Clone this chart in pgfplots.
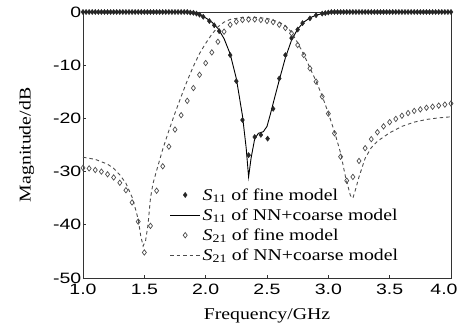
\documentclass[border=0pt]{standalone}
\usepackage{fontspec}
\setmainfont{Liberation Serif}[FakeStretch=1.2]
\newfontfamily\tickfont{Liberation Sans}[FakeStretch=1.3]
\usepackage{pgfplots}
\pgfplotsset{compat=1.18}
\begin{document}
\begin{tikzpicture}
\begin{axis}[name=ax, scale only axis, width=368pt, height=266pt,
  xmin=1, xmax=4, ymin=-50, ymax=0,
  xtick={1,1.5,2,2.5,3,3.5,4}, ytick={-50,-40,-30,-20,-10,0},
  xticklabels={1.0,1.5,2.0,2.5,3.0,3.5,\hspace*{-14pt}4.0},
  /pgf/number format/assume math mode=true,
  x tick label style={font=\fontsize{15}{15}\selectfont\tickfont, inner sep=2pt, yshift=-4pt},
  y tick label style={font=\fontsize{15}{15}\selectfont\tickfont, inner sep=1.5pt},
  tick align=inside, xtick pos=bottom, ytick pos=left, major tick length=3pt,
  tick style={black!80, line width=0.8pt},
  axis line style={black!80, line width=0.9pt},
  xlabel={Frequency/GHz}, ylabel={Magnitude/dB},
  label style={font=\fontsize{16.5}{19}\selectfont},
  xlabel style={yshift=-8pt},
  ylabel style={yshift=14pt},
  legend cell align=left,
  legend style={draw=none, fill=none, at={(0.235,0.345)}, anchor=north west, font=\fontsize{16.5}{18}\selectfont, row sep=3pt, inner sep=0pt},
  legend image code/.code={\draw[mark repeat=2,mark phase=2,#1] plot coordinates {(0cm,0cm) (0.53cm,0cm) (1.06cm,0cm)};},
]
\addplot[only marks, mark=diamond*, mark size=2.6pt, black!85] coordinates {
(1.000,0)(1.025,0)(1.050,0)(1.075,0)(1.100,0)(1.125,0)(1.150,0)(1.175,0)(1.200,0)(1.225,0)
(1.250,0)(1.275,0)(1.300,0)(1.325,0)(1.350,0)(1.375,0)(1.400,0)(1.425,0)(1.450,0)(1.475,0)
(1.500,0)(1.525,0)(1.550,0)(1.575,0)(1.600,0)(1.625,0)(1.650,0)(1.675,0)(1.700,0)(1.725,0)
(1.750,0)(1.775,0)(1.800,0)(1.825,0)(1.850,0)(1.875,-0.1)(1.900,-0.15)
(1.925,-0.3)(1.950,-0.5)(1.980,-0.9)(2.030,-1.7)(2.070,-2.5)(2.110,-3.6)(2.200,-8.1)
(2.250,-13.0)(2.300,-20.3)(2.350,-26.9)(2.400,-23.5)(2.450,-23.1)(2.505,-23.8)(2.550,-18.2)
(2.600,-12.5)(2.650,-8.1)(2.700,-4.9)(2.750,-3.3)(2.790,-2.1)(2.850,-1.2)(2.900,-0.6)(2.950,-0.3)
(2.975,-0.2)(3.000,-0.1)(3.025,0)(3.050,0)(3.075,0)(3.100,0)(3.125,0)(3.150,0)(3.175,0)(3.200,0)
(3.225,0)(3.250,0)(3.275,0)(3.300,0)(3.325,0)(3.350,0)(3.375,0)(3.400,0)(3.425,0)(3.450,0)
(3.475,0)(3.500,0)(3.525,0)(3.550,0)(3.575,0)(3.600,0)(3.625,0)(3.650,0)(3.675,0)(3.700,0)
(3.725,0)(3.750,0)(3.775,0)(3.800,0)(3.825,0)(3.850,0)(3.875,0)(3.900,0)(3.925,0)(3.950,0)
(3.975,0)(4.000,0)
};
\addlegendentry{{\itshape S}\textsubscript{11} of fine model}
\addplot[black, line width=0.9pt, no marks] coordinates {
(1.0,0)(1.8,0)(1.85,-0.1)(1.9,-0.25)(1.95,-0.55)(2.0,-1.1)(2.05,-1.9)(2.1,-3.1)(2.15,-5.0)
(2.2,-7.9)(2.25,-12.5)(2.3,-19.5)(2.33,-25.5)(2.35,-31.0)(2.37,-27.5)(2.40,-23.8)(2.43,-22.8)
(2.47,-22.5)(2.50,-21.5)(2.53,-19.0)(2.56,-16.3)(2.60,-12.8)(2.65,-8.6)(2.70,-5.3)(2.75,-3.2)
(2.80,-1.9)(2.85,-1.1)(2.90,-0.6)(2.95,-0.3)(3.0,-0.15)(3.1,-0.05)(3.2,0)(4.0,0)
};
\addlegendentry{{\itshape S}\textsubscript{11} of NN+coarse model}
\addplot[only marks, mark=diamond, mark size=2.7pt, black!70, mark options={line width=0.7pt}] coordinates {
(1.00,-29.3)(1.05,-29.4)(1.10,-29.7)(1.15,-30.0)(1.20,-30.5)(1.25,-31.1)(1.30,-32.1)(1.35,-33.5)
(1.40,-35.8)(1.45,-39.4)(1.50,-45.2)(1.55,-40.2)(1.60,-33.6)(1.65,-29.0)(1.70,-25.3)(1.75,-22.1)
(1.80,-19.4)(1.85,-16.7)(1.90,-14.3)(1.95,-11.8)(2.00,-9.6)(2.05,-7.6)(2.10,-5.6)(2.15,-3.7)
(2.20,-2.4)(2.25,-1.8)(2.30,-1.5)(2.35,-1.4)(2.40,-1.4)(2.45,-1.5)(2.50,-1.7)(2.55,-1.9)
(2.60,-2.4)(2.65,-3.0)(2.70,-4.0)(2.75,-6.2)(2.80,-8.1)(2.85,-10.6)(2.90,-13.1)(2.95,-15.9)
(3.00,-19.1)(3.05,-22.8)(3.10,-27.2)(3.15,-31.7)(3.20,-31.0)(3.25,-28.0)(3.30,-25.6)(3.35,-23.9)
(3.40,-22.6)(3.45,-21.5)(3.50,-20.7)(3.55,-20.1)(3.60,-19.5)(3.65,-19.0)(3.70,-18.6)(3.75,-18.3)
(3.80,-18.0)(3.85,-17.8)(3.90,-17.6)(3.95,-17.4)(4.00,-17.2)
};
\addlegendentry{{\itshape S}\textsubscript{21} of fine model}
\addplot[black!70, dash pattern=on 3.5pt off 3pt, line width=0.9pt, no marks] coordinates {
(1.00,-27.3)(1.10,-27.7)(1.20,-28.6)(1.25,-29.4)(1.30,-30.6)(1.35,-32.2)(1.40,-34.8)(1.43,-37.2)
(1.45,-39.0)(1.47,-42.0)(1.49,-44.0)(1.51,-43.0)(1.53,-40.0)(1.55,-35.0)(1.57,-32.3)(1.60,-29.8)
(1.65,-25.8)(1.70,-22.3)(1.75,-19.0)(1.80,-15.9)(1.85,-12.9)(1.90,-10.2)(1.95,-7.8)(2.00,-5.9)
(2.05,-4.2)(2.10,-2.8)(2.15,-1.9)(2.20,-1.4)(2.30,-1.0)(2.40,-1.0)(2.50,-1.2)(2.60,-1.9)
(2.65,-2.6)(2.70,-3.8)(2.75,-5.8)(2.80,-8.0)(2.85,-10.5)(2.90,-13.0)(2.95,-15.8)(3.00,-19.0)
(3.05,-22.5)(3.10,-26.5)(3.14,-31.0)(3.18,-34.5)(3.20,-35.0)(3.22,-33.5)(3.25,-31.0)(3.30,-27.5)
(3.35,-25.5)(3.40,-24.3)(3.50,-22.7)(3.60,-21.5)(3.70,-20.7)(3.80,-20.2)(3.90,-19.9)(4.00,-19.7)
};
\addlegendentry{{\itshape S}\textsubscript{21} of NN+coarse model}
\end{axis}
\pgfresetboundingbox
\path ([shift={(-83pt,-45pt)}]ax.south west) rectangle ([shift={(9pt,12pt)}]ax.north east);
\end{tikzpicture}
\end{document}
